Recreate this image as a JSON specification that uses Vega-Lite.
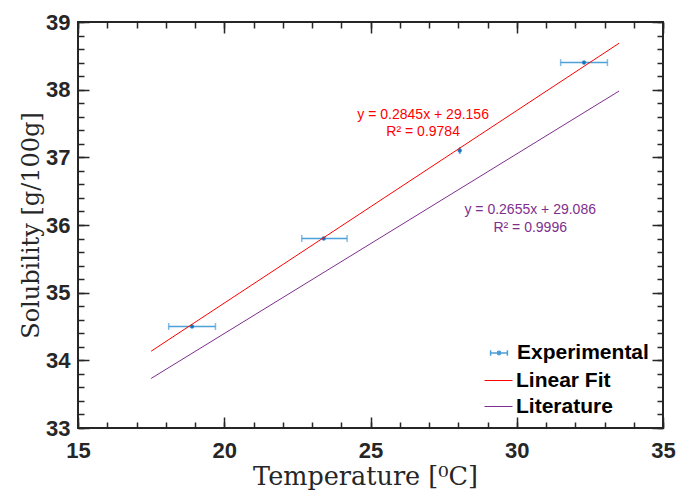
{
  "$schema": "https://vega.github.io/schema/vega-lite/v6.json",
  "autosize": "none",
  "width": 585,
  "height": 406,
  "padding": {"left": 78, "top": 22, "right": 14, "bottom": 68},
  "background": "white",
  "datasets": {
    "experimental": [
      {"T": 18.9, "S": 34.5, "Tlo": 18.1, "Thi": 19.7},
      {"T": 23.4, "S": 35.8, "Tlo": 22.65, "Thi": 24.2},
      {"T": 28.05, "S": 37.1, "Tlo": 28.05, "Thi": 28.05},
      {"T": 32.3, "S": 38.4, "Tlo": 31.5, "Thi": 33.1}
    ],
    "fits": [
      {"series": "Linear Fit", "T": 17.5, "S": 34.13475},
      {"series": "Linear Fit", "T": 33.5, "S": 38.68675},
      {"series": "Literature", "T": 17.5, "S": 33.73225},
      {"series": "Literature", "T": 33.5, "S": 37.98025}
    ],
    "fitLabel": [
      {"T": 26.8, "S": 37.63, "label": "y = 0.2845x + 29.156\nR² = 0.9784"}
    ],
    "litLabel": [
      {"T": 30.46, "S": 36.22, "label": "y = 0.2655x + 29.086\nR² = 0.9996"}
    ]
  },
  "layer": [
    {
      "data": {"name": "experimental"},
      "mark": {
        "type": "errorbar",
        "color": "#4da0d8",
        "thickness": 1.5,
        "ticks": {"color": "#4da0d8", "size": 7, "thickness": 1.5}
      },
      "encoding": {
        "x": {"field": "Tlo", "type": "quantitative", "scale": {"domain": [15, 35], "nice": false, "zero": false}, "axis": null},
        "x2": {"field": "Thi"},
        "y": {"field": "S", "type": "quantitative", "scale": {"domain": [33, 39], "nice": false, "zero": false}, "axis": null}
      }
    },
    {
      "data": {"name": "experimental"},
      "mark": {"type": "point", "filled": true, "color": "#1f6fb8", "size": 16, "opacity": 1, "strokeWidth": 0.5},
      "encoding": {
        "x": {
          "field": "T", "type": "quantitative",
          "scale": {"domain": [15, 35], "nice": false, "zero": false},
          "axis": {
            "orient": "bottom", "values": [15, 20, 25, 30, 35], "tickSize": -11,
            "labelPadding": 23, "labelFlush": false, "labelOverlap": false,
            "title": "Temperature [⁰C]", "titlePadding": 3, "titleFontSize": 25.5, "titleX": 287
          }
        },
        "y": {
          "field": "S", "type": "quantitative",
          "scale": {"domain": [33, 39], "nice": false, "zero": false},
          "axis": {
            "orient": "left", "values": [33, 34, 35, 36, 37, 38, 39], "tickSize": -11,
            "labelPadding": 19, "labelFlush": false, "labelOverlap": false,
            "title": "Solubility [g/100g]", "titlePadding": 2
          }
        },
        "stroke": {
          "datum": "Experimental", "type": "nominal",
          "scale": {"domain": ["Experimental"], "range": ["#4da0d8"]},
          "legend": {
            "title": null, "orient": "none", "legendX": 406, "legendY": 316, "padding": 0,
            "labelFont": "Liberation Sans", "labelFontSize": 21, "labelFontWeight": "bold", "labelColor": "#000000",
            "symbolType": "M-0.6,0H0.6M-0.6,-0.2V0.2M0.6,-0.2V0.2M0.12,0A0.12,0.12,0,1,1,-0.12,0A0.12,0.12,0,1,1,0.12,0",
            "symbolSize": 784, "symbolFillColor": "#1f6fb8", "symbolStrokeColor": "#4da0d8", "symbolStrokeWidth": 1.5,
            "symbolOpacity": 1, "labelOffset": 3
          }
        }
      }
    },
    {
      "data": {"name": "fits"},
      "mark": {"type": "line", "strokeWidth": 1},
      "encoding": {
        "x": {
          "field": "T", "type": "quantitative",
          "scale": {"domain": [15, 35], "nice": false, "zero": false},
          "axis": {"orient": "top", "values": [15, 20, 25, 30, 35], "tickSize": -11, "labels": false, "title": null}
        },
        "y": {
          "field": "S", "type": "quantitative",
          "scale": {"domain": [33, 39], "nice": false, "zero": false},
          "axis": {"orient": "right", "values": [33, 34, 35, 36, 37, 38, 39], "tickSize": -11, "labels": false, "title": null}
        },
        "color": {
          "field": "series", "type": "nominal",
          "scale": {"domain": ["Linear Fit", "Literature"], "range": ["#ff0000", "#7e2f8e"]},
          "legend": {
            "title": null, "orient": "none", "legendX": 406, "legendY": 344, "padding": 0,
            "labelFont": "Liberation Sans", "labelFontSize": 21, "labelFontWeight": "bold", "labelColor": "#000000",
            "symbolType": "stroke", "symbolSize": 784, "symbolStrokeWidth": 1, "rowPadding": 1, "labelOffset": 3
          }
        }
      }
    },
    {
      "data": {"name": "fitLabel"},
      "mark": {"type": "text", "font": "Liberation Sans", "fontSize": 14, "color": "#ff0000", "align": "center", "baseline": "middle", "lineBreak": "\n", "lineHeight": 17.6},
      "encoding": {
        "x": {
          "field": "T", "type": "quantitative",
          "scale": {"domain": [15, 35], "nice": false, "zero": false},
          "axis": {"orient": "bottom", "values": [15, 16, 17, 18, 19, 20, 21, 22, 23, 24, 25, 26, 27, 28, 29, 30, 31, 32, 33, 34, 35], "tickSize": -6, "labels": false, "title": null}
        },
        "y": {
          "field": "S", "type": "quantitative",
          "scale": {"domain": [33, 39], "nice": false, "zero": false},
          "axis": {"orient": "left", "values": [33, 33.2, 33.4, 33.6, 33.8, 34, 34.2, 34.4, 34.6, 34.8, 35, 35.2, 35.4, 35.6, 35.8, 36, 36.2, 36.4, 36.6, 36.8, 37, 37.2, 37.4, 37.6, 37.8, 38, 38.2, 38.4, 38.6, 38.8, 39], "tickSize": -6, "labels": false, "title": null}
        },
        "text": {"field": "label", "type": "nominal"}
      }
    },
    {
      "data": {"name": "litLabel"},
      "mark": {"type": "text", "font": "Liberation Sans", "fontSize": 14, "color": "#7e2f8e", "align": "center", "baseline": "middle", "lineBreak": "\n", "lineHeight": 17.6},
      "encoding": {
        "x": {
          "field": "T", "type": "quantitative",
          "scale": {"domain": [15, 35], "nice": false, "zero": false},
          "axis": {"orient": "top", "values": [15, 16, 17, 18, 19, 20, 21, 22, 23, 24, 25, 26, 27, 28, 29, 30, 31, 32, 33, 34, 35], "tickSize": -6, "labels": false, "title": null}
        },
        "y": {
          "field": "S", "type": "quantitative",
          "scale": {"domain": [33, 39], "nice": false, "zero": false},
          "axis": {"orient": "right", "values": [33, 33.2, 33.4, 33.6, 33.8, 34, 34.2, 34.4, 34.6, 34.8, 35, 35.2, 35.4, 35.6, 35.8, 36, 36.2, 36.4, 36.6, 36.8, 37, 37.2, 37.4, 37.6, 37.8, 38, 38.2, 38.4, 38.6, 38.8, 39], "tickSize": -6, "labels": false, "title": null}
        },
        "text": {"field": "label", "type": "nominal"}
      }
    }
  ],
  "resolve": {"axis": {"x": "independent", "y": "independent"}},
  "config": {
    "view": {"stroke": "#262626", "strokeWidth": 2},
    "axis": {
      "grid": false, "domain": false,
      "tickColor": "#262626", "tickWidth": 1.5,
      "labelFont": "Liberation Sans", "labelFontSize": 22, "labelFontWeight": "bold", "labelColor": "#262626",
      "titleFont": "DejaVu Serif", "titleFontSize": 24, "titleFontWeight": "normal", "titleColor": "#262626"
    }
  }
}
